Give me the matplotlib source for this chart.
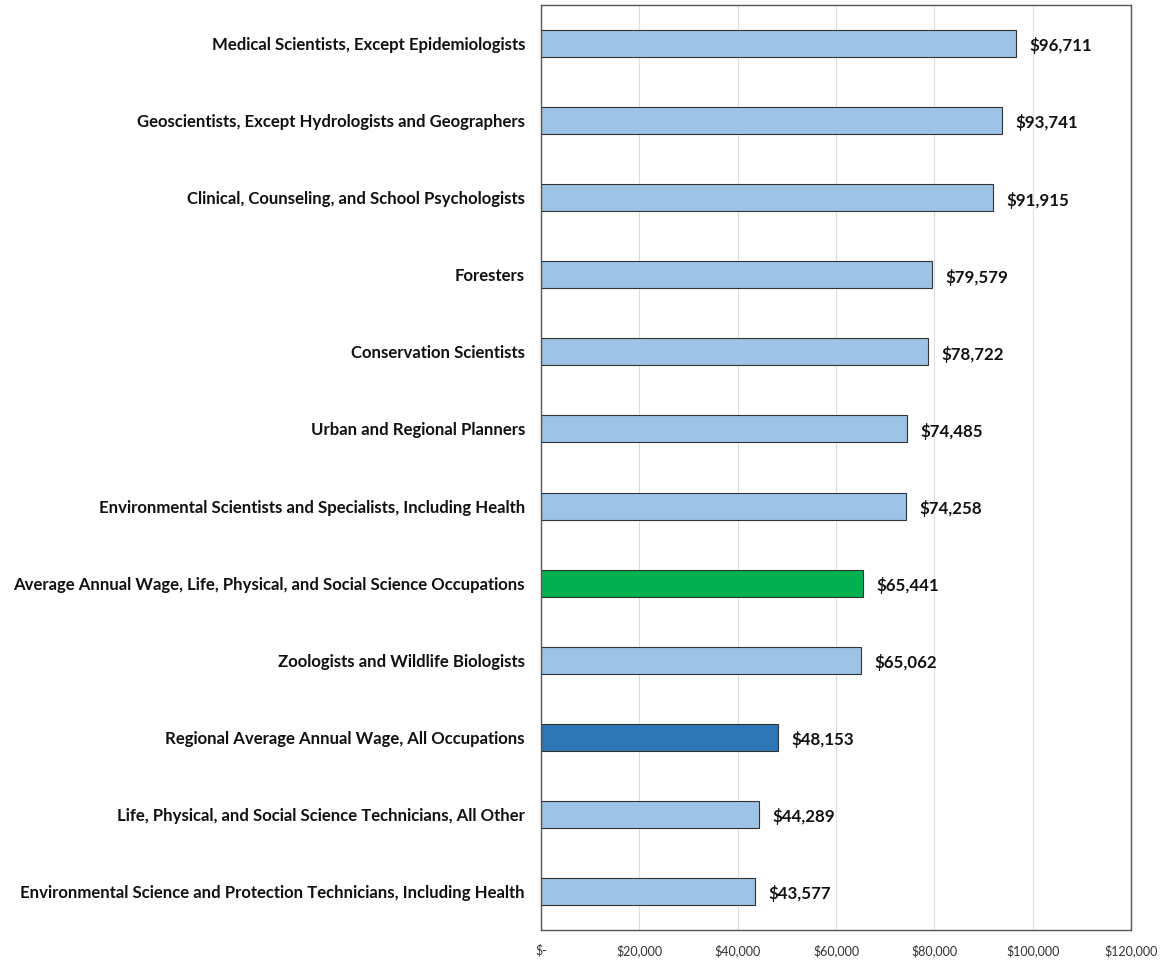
import matplotlib
matplotlib.use('Agg')
import matplotlib.pyplot as plt
from matplotlib.ticker import FuncFormatter

plt.rcParams['font.family'] = ['Lato', 'DejaVu Sans']

# data, top to bottom
occupations = [
    'Medical Scientists, Except Epidemiologists',
    'Geoscientists, Except Hydrologists and Geographers',
    'Clinical, Counseling, and School Psychologists',
    'Foresters',
    'Conservation Scientists',
    'Urban and Regional Planners',
    'Environmental Scientists and Specialists, Including Health',
    'Average Annual Wage, Life, Physical, and Social Science Occupations',
    'Zoologists and Wildlife Biologists',
    'Regional Average Annual Wage, All Occupations',
    'Life, Physical, and Social Science Technicians, All Other',
    'Environmental Science and Protection Technicians, Including Health',
]
wages = [96711, 93741, 91915, 79579, 78722, 74485, 74258, 65441, 65062, 48153, 44289, 43577]
kinds = ['occ', 'occ', 'occ', 'occ', 'occ', 'occ', 'occ', 'group', 'occ', 'region', 'occ', 'occ']
x_ticks = [0, 20000, 40000, 60000, 80000, 100000, 120000]

COLORS = {'occ': '#9DC3E6', 'group': '#00B050', 'region': '#2E75B6'}

fig = plt.figure(figsize=(11.66, 9.6), dpi=100)
ax = fig.add_axes([541 / 1166, 30 / 960, 590 / 1166, 925 / 960])

y = list(range(len(occupations)))
ax.barh(y, wages, height=0.35, color=[COLORS[k] for k in kinds],
        edgecolor='#333333', linewidth=0.8, zorder=2)

for yi, w in zip(y, wages):
    ax.text(w + 2700, yi + 0.03, f'${w:,}', ha='left', va='center',
            fontsize=12.2, fontweight='bold', color='#111111', zorder=3)

ax.set_ylim(len(occupations) - 0.5, -0.5)
ax.set_yticks(y)
ax.set_yticklabels(occupations, fontsize=12.1, fontweight='bold', color='#111111')

ax.set_xlim(0, 120000)
ax.set_xticks(x_ticks)
ax.xaxis.set_major_formatter(FuncFormatter(lambda v, p: '$-' if v == 0 else f'${int(v):,}'))
ax.tick_params(axis='x', length=0, labelsize=9, colors='#333333', pad=10)
ax.tick_params(axis='y', length=0, pad=11.5)

ax.grid(axis='x', color='#dddddd', linewidth=0.8, zorder=0)
for s in ax.spines.values():
    s.set_color('#555555')
    s.set_linewidth(1.0)

plt.savefig('out.png', dpi=100, facecolor='white')
plt.close()
